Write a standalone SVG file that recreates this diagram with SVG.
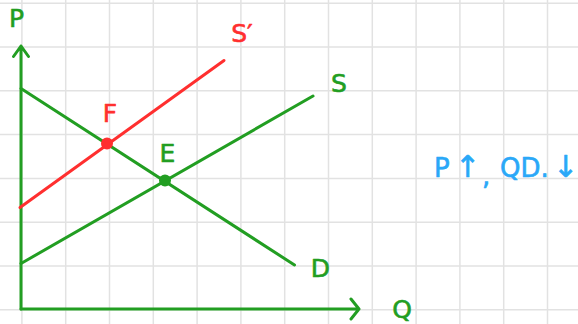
<svg xmlns="http://www.w3.org/2000/svg" width="578" height="324" viewBox="0 0 578 324">
<style>
.grid line{stroke:#e2e2e2;stroke-width:1.5}
.g{stroke:#229e22;stroke-width:3;fill:none;stroke-linecap:round;stroke-linejoin:round}
.r{stroke:#ff2f2f;stroke-width:3;fill:none;stroke-linecap:round}
.lbl{font-family:"DejaVu Sans","Liberation Sans",sans-serif;font-size:25px;text-anchor:middle;stroke-width:0.6;stroke-linejoin:round}
.gt{fill:#229e22;stroke:#229e22}
.rt{fill:#ff2f2f;stroke:#ff2f2f}
.bt{fill:#2aa8f8;stroke:#2aa8f8;stroke-width:0.6;stroke-linejoin:round;font-family:"DejaVu Sans","Liberation Sans",sans-serif;font-size:26px}
.arr{font-size:30px}
</style>
<rect width="578" height="324" fill="#ffffff"/>
<g class="grid">
<line x1="21.9" y1="0" x2="21.9" y2="324"/><line x1="65.7" y1="0" x2="65.7" y2="324"/><line x1="109.5" y1="0" x2="109.5" y2="324"/><line x1="153.3" y1="0" x2="153.3" y2="324"/><line x1="197.1" y1="0" x2="197.1" y2="324"/><line x1="240.9" y1="0" x2="240.9" y2="324"/><line x1="284.7" y1="0" x2="284.7" y2="324"/><line x1="328.5" y1="0" x2="328.5" y2="324"/><line x1="372.3" y1="0" x2="372.3" y2="324"/><line x1="416.1" y1="0" x2="416.1" y2="324"/><line x1="459.9" y1="0" x2="459.9" y2="324"/><line x1="503.7" y1="0" x2="503.7" y2="324"/><line x1="547.5" y1="0" x2="547.5" y2="324"/>
<line x1="0" y1="3.3" x2="578" y2="3.3"/><line x1="0" y1="47" x2="578" y2="47"/><line x1="0" y1="90.8" x2="578" y2="90.8"/><line x1="0" y1="134.6" x2="578" y2="134.6"/><line x1="0" y1="178.4" x2="578" y2="178.4"/><line x1="0" y1="222.2" x2="578" y2="222.2"/><line x1="0" y1="266" x2="578" y2="266"/><line x1="0" y1="309.8" x2="578" y2="309.8"/>
</g>
<g id="connectors">
<path id="y-axis" class="g" d="M21,309 V46 M13.5,56.5 L21,46 L28.5,56.5"/>
<path id="x-axis" class="g" d="M21,309 H359 M351,299 L359,309 L351,319"/>
<line id="demand" class="g" x1="21" y1="88.5" x2="294.5" y2="265"/>
<line id="supply" class="g" x1="21" y1="263.5" x2="313" y2="96"/>
<line id="supply2" class="r" x1="20" y1="207.5" x2="224" y2="60.5"/>
</g>
<g id="point-E"><circle cx="165" cy="180.5" r="6" fill="#229e22"/><text class="lbl gt" x="167.5" y="162">E</text></g>
<g id="point-F"><circle cx="107" cy="143.5" r="6" fill="#ff2f2f"/><text class="lbl rt" x="110" y="122">F</text></g>
<g id="label-P"><text class="lbl gt" x="16.5" y="27">P</text></g>
<g id="label-Q"><text class="lbl gt" x="402" y="318">Q</text></g>
<g id="label-S"><text class="lbl gt" x="339" y="92">S</text></g>
<g id="label-S2"><text class="lbl rt" x="242" y="42">S′</text></g>
<g id="label-D"><text class="lbl gt" x="320.5" y="277">D</text></g>
<g id="note"><text class="bt" y="177"><tspan x="434">P</tspan><tspan class="arr" x="455">↑</tspan><tspan x="482" dy="8">,</tspan><tspan x="500" dy="-8">QD.</tspan><tspan class="arr" x="553">↓</tspan></text></g>
</svg>
